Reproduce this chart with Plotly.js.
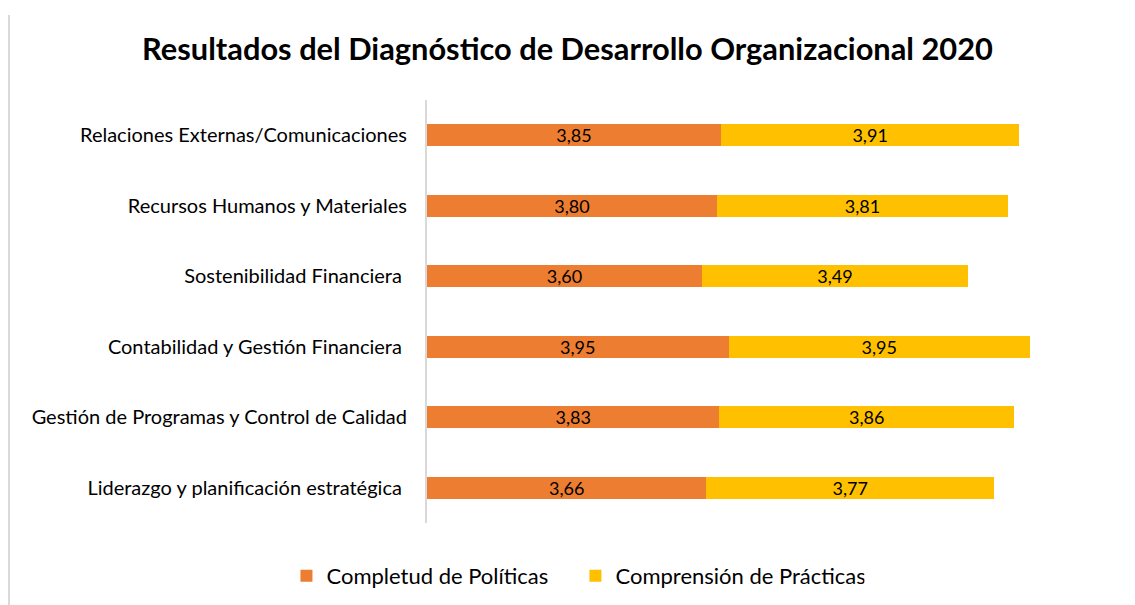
<!DOCTYPE html>
<html>
<head>
<meta charset="utf-8">
<script src="https://cdn.plot.ly/plotly-3.0.1.min.js"></script>
<style>
html,body{margin:0;padding:0;background:#fff;}
#wrap{position:relative;width:1135px;height:605px;}
#chart{width:1135px;height:605px;}
#edge{position:absolute;left:8px;top:15px;width:2px;height:590px;background:#d9d9d9;}
</style>
</head>
<body>
<div id="wrap"><div id="chart"></div><div id="edge"></div></div>
<script>
const categories = [
  "Relaciones Externas/Comunicaciones",
  "Recursos Humanos y Materiales",
  "Sostenibilidad Financiera ",
  "Contabilidad y Gestión Financiera ",
  "Gestión de Programas y Control de Calidad",
  "Liderazgo y planificación estratégica "
];
const completudPoliticas = [3.85, 3.80, 3.60, 3.95, 3.83, 3.66];
const comprensionPracticas = [3.91, 3.81, 3.49, 3.95, 3.86, 3.77];
const seriesNames = ["Completud de Políticas", "Comprensión de Prácticas"];

const font = "Lato, 'Open Sans', sans-serif";
const common = {
  type: 'bar', orientation: 'h', y: categories,
  texttemplate: '%{x:.2f}', textposition: 'inside', insidetextanchor: 'middle',
  constraintext: 'none',
  textfont: {family: font, size: 18, color: '#000'},
  hoverinfo: 'skip'
};
const traces = [
  Object.assign({}, common, {x: completudPoliticas, name: seriesNames[0], marker: {color: '#ED7D31'}}),
  Object.assign({}, common, {x: comprensionPracticas, name: seriesNames[1], marker: {color: '#FFC000'}})
];
const layout = {
  width: 1135, height: 605,
  barmode: 'stack', bargap: 0.69,
  separators: ',.',
  paper_bgcolor: '#fff', plot_bgcolor: '#fff',
  font: {family: font, size: 20, color: '#000'},
  title: {text: '<b>Resultados del Diagnóstico de Desarrollo Organizacional 2020</b>',
          font: {family: font, size: 30.8, color: '#000'}, x: 0.5, xanchor: 'center', y: 0.918, yanchor: 'middle'},
  margin: {l: 427, r: 21, t: 100, b: 82},
  xaxis: {range: [0, 9], visible: false, fixedrange: true},
  yaxis: {autorange: 'reversed', showline: true, linecolor: '#d9d9d9', linewidth: 2,
          ticks: '', ticklabelstandoff: 14, showgrid: false, zeroline: false,
          tickfont: {family: font, size: 20, color: '#000'}},
  showlegend: true,
  legend: {orientation: 'h', x: 0.507, xref: 'container', xanchor: 'center', y: 0.048, yref: 'container', yanchor: 'middle',
           font: {family: font, size: 22, color: '#000'}, itemwidth: 30, traceorder: 'normal',
           entrywidth: 244, entrywidthmode: 'pixels'}
};
Plotly.newPlot('chart', traces, layout, {displayModeBar: false, staticPlot: true});
</script>
</body>
</html>
